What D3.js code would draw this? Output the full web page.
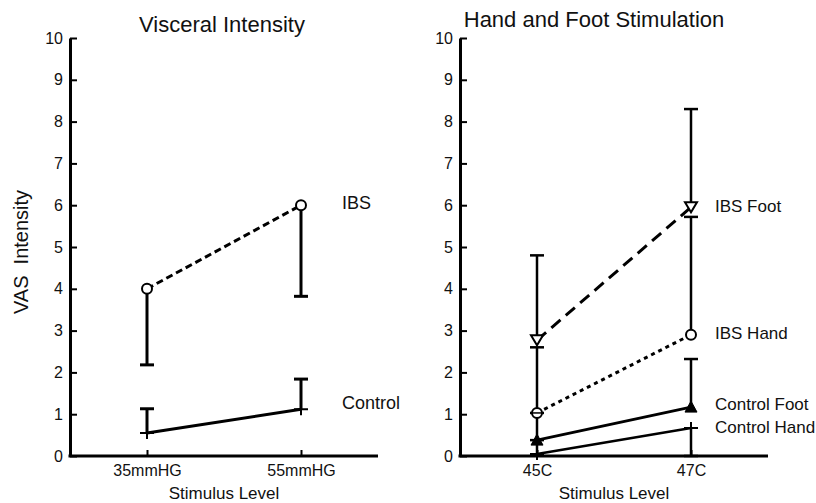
<!DOCTYPE html>
<html>
<head>
<meta charset="utf-8">
<script src="https://cdn.jsdelivr.net/npm/d3@7"></script>
<style>
  html, body { margin: 0; padding: 0; background: #fff; }
  svg { display: block; font-family: "Liberation Sans", Arial, sans-serif; }
  text { fill: #111; }
</style>
</head>
<body>
<svg id="chart" width="816" height="503"></svg>
<script>
// VAS intensity ratings (means, one-sided error bars)
const yTicks = [0, 1, 2, 3, 4, 5, 6, 7, 8, 9, 10];

// Visceral panel
const visceralLevels = ["35mmHG", "55mmHG"];
const ibsVisceral = [4.0, 6.0];
const ibsVisceralErr = [-1.82, -2.18];
const controlVisceral = [0.55, 1.12];
const controlVisceralErr = [0.58, 0.72];

// Hand and foot panel
const thermalLevels = ["45C", "47C"];
const ibsFoot = [2.77, 5.95];
const ibsFootErr = [2.03, 2.35];
const ibsHand = [1.03, 2.9];
const ibsHandErr = [1.57, 2.82];
const controlFoot = [0.38, 1.17];
const controlFootErr = [0.65, 1.15];
const controlHand = [0.05, 0.67];
const controlHandErr = [0.33, -0.67];

const svg = d3.select("#chart");
const y = d3.scaleLinear().domain([0, 10]).range([456, 38]);

function drawPanel(opts) {
  const g = svg.append("g");
  const x = d3.scalePoint().domain(opts.categories)
    .range([opts.x0, opts.x0 + 308]).padding(0.5);

  // error bars with a cap at the far end
  opts.series.forEach(s => {
    s.values.forEach((v, i) => {
      const cx = x(opts.categories[i]);
      const end = v + s.err[i];
      g.append("line")
        .attr("x1", cx).attr("x2", cx)
        .attr("y1", y(v)).attr("y2", y(end))
        .attr("stroke", "#000").attr("stroke-width", opts.errWidth);
      g.append("line")
        .attr("x1", cx - 7).attr("x2", cx + 7)
        .attr("y1", y(end)).attr("y2", y(end))
        .attr("stroke", "#000").attr("stroke-width", opts.errWidth);
    });
  });

  // series lines
  const line = d3.line()
    .x((d, i) => x(opts.categories[i]))
    .y(d => y(d));
  opts.series.forEach(s => {
    g.append("path")
      .datum(s.values)
      .attr("d", line)
      .attr("fill", "none")
      .attr("stroke", "#000")
      .attr("stroke-width", s.width)
      .attr("stroke-dasharray", s.dash || null);
  });

  // markers
  opts.series.forEach(s => {
    s.values.forEach((v, i) => {
      const cx = x(opts.categories[i]), cy = y(v);
      const m = g.append("g").attr("transform", `translate(${cx},${cy})`);
      if (s.marker === "circle") {
        m.append("circle").attr("r", 5).attr("fill", "#fff")
          .attr("stroke", "#000").attr("stroke-width", 2);
      } else if (s.marker === "plus") {
        m.append("path").attr("d", "M-7,0H7M0,-6V6")
          .attr("stroke", "#000").attr("stroke-width", 2);
      } else if (s.marker === "triDown") {
        m.append("path").attr("d", "M-6,-5L6,-5L0,5Z").attr("fill", "#fff")
          .attr("stroke", "#000").attr("stroke-width", 2);
      } else if (s.marker === "triUp") {
        m.append("path").attr("d", "M-6,5L6,5L0,-6Z").attr("fill", "#000")
          .attr("stroke", "#000").attr("stroke-width", 1);
      }
    });
  });

  // caps that sit inside an open circle stay visible on top of it
  (opts.overlayCaps || []).forEach(c => {
    const cx = x(opts.categories[c.index]);
    g.append("line")
      .attr("x1", cx - 5).attr("x2", cx + 5)
      .attr("y1", y(c.value)).attr("y2", y(c.value))
      .attr("stroke", "#000").attr("stroke-width", 1.5);
  });

  // axes
  const yAxis = d3.axisLeft(y).tickValues(yTicks).tickSize(-7)
    .tickSizeOuter(0).tickPadding(7);
  const ga = g.append("g").attr("transform", `translate(${opts.x0},0)`).call(yAxis);
  ga.select(".domain").attr("stroke-width", 3).attr("stroke", "#000");
  ga.selectAll(".tick line").attr("stroke-width", 2).attr("stroke", "#000");
  ga.selectAll("text").attr("font-size", 16).attr("font-family", null);

  const xAxis = d3.axisBottom(x).tickSize(-6).tickSizeOuter(0).tickPadding(9);
  const gx = g.append("g").attr("transform", `translate(0,${y(0)})`).call(xAxis);
  gx.select(".domain").attr("stroke-width", 3).attr("stroke", "#000")
    .attr("d", `M${opts.x0 - 1.5},0H${opts.x0 + 308}`);
  gx.selectAll(".tick line").attr("stroke-width", 2).attr("stroke", "#000");
  gx.selectAll("text").attr("font-size", 16).attr("font-family", null);

  // titles
  g.append("text").attr("x", opts.titleX).attr("y", opts.titleY)
    .attr("text-anchor", "middle").attr("font-size", 22).text(opts.title);
  g.append("text").attr("x", opts.x0 + 154).attr("y", 499)
    .attr("text-anchor", "middle").attr("font-size", 17).text("Stimulus Level");

  // series labels
  opts.series.forEach(s => {
    g.append("text")
      .attr("x", opts.labelX)
      .attr("y", y(s.values[s.values.length - 1]) + s.labelDy)
      .attr("font-size", opts.labelSize)
      .text(s.name);
  });
}

drawPanel({
  x0: 70,
  categories: visceralLevels,
  title: "Visceral Intensity", titleX: 222, titleY: 32,
  labelX: 342, labelSize: 18, errWidth: 3,
  series: [
    { name: "IBS", values: ibsVisceral, err: ibsVisceralErr, marker: "circle",
      width: 3, dash: "7,4", labelDy: 4 },
    { name: "Control", values: controlVisceral, err: controlVisceralErr, marker: "plus",
      width: 3, labelDy: 0 }
  ]
});

drawPanel({
  x0: 460,
  categories: thermalLevels,
  title: "Hand and Foot Stimulation", titleX: 594, titleY: 27,
  labelX: 715, labelSize: 17, errWidth: 2.5,
  overlayCaps: [{ index: 0, value: controlFoot[0] + controlFootErr[0] }],
  series: [
    { name: "IBS Foot", values: ibsFoot, err: ibsFootErr, marker: "triDown",
      width: 3, dash: "12,7", labelDy: 5 },
    { name: "IBS Hand", values: ibsHand, err: ibsHandErr, marker: "circle",
      width: 3, dash: "4,4", labelDy: 4 },
    { name: "Control Foot", values: controlFoot, err: controlFootErr, marker: "triUp",
      width: 3, labelDy: 3 },
    { name: "Control Hand", values: controlHand, err: controlHandErr, marker: "plus",
      width: 2.5, labelDy: 5 }
  ]
});

// shared y-axis title
svg.append("text")
  .attr("transform", "translate(28,252) rotate(-90)")
  .attr("text-anchor", "middle")
  .attr("font-size", 20)
  .style("white-space", "pre")
  .text("VAS  Intensity");
</script>
</body>
</html>
